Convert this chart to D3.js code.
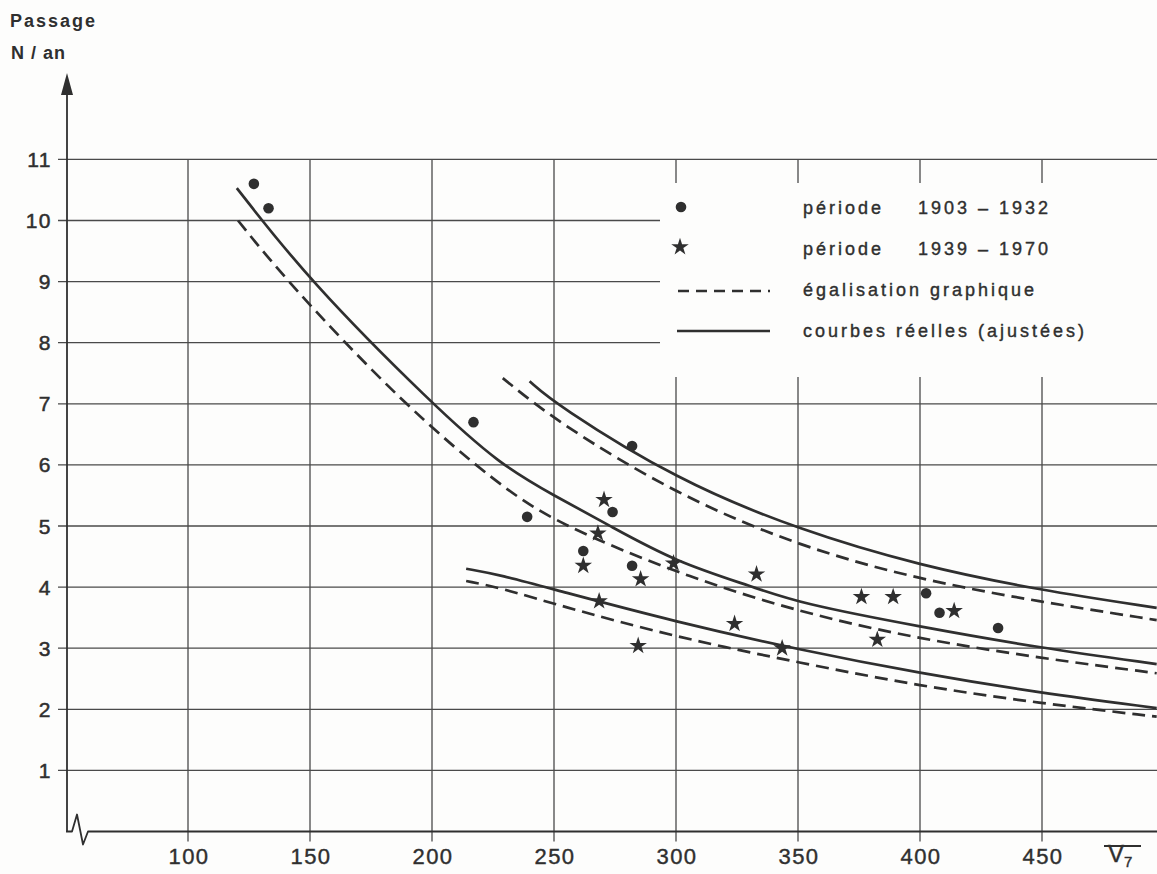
<!DOCTYPE html>
<html>
<head>
<meta charset="utf-8">
<script src="https://cdn.jsdelivr.net/npm/d3@7"></script>
<style>
  html, body { margin: 0; padding: 0; background: #fdfdfc; }
  svg { display: block; }
  text { font-family: 'Liberation Sans', Arial, sans-serif; }
</style>
</head>
<body>
<div id="chart"></div>
<script>
// Tick values
var xTicks = [100, 150, 200, 250, 300, 350, 400, 450];
var yTicks = [1, 2, 3, 4, 5, 6, 7, 8, 9, 10, 11];

// Observations, période 1903 - 1932 (dots)
var p1V = [127, 133, 217, 239, 282, 274, 262, 282, 402.5, 408, 432];
var p1N = [10.6, 10.2, 6.7, 5.15, 6.31, 5.23, 4.59, 4.35, 3.9, 3.58, 3.33];

// Observations, période 1939 - 1970 (stars)
var p2V = [270.5, 268, 262, 285.5, 299, 268.5, 333, 324, 284.5, 343.5, 376, 389, 382.5, 414];
var p2N = [5.43, 4.88, 4.35, 4.13, 4.39, 3.77, 4.21, 3.4, 3.04, 3.0, 3.84, 3.84, 3.14, 3.61];

// Curves: solid = courbes réelles, dashed = égalisation graphique
var curveASolidV = [120, 150, 200, 228, 250, 273, 300, 332, 350, 400, 450, 497];
var curveASolidN = [10.53, 9.0, 7.0, 6.0, 5.5, 5.0, 4.41, 4.0, 3.74, 3.35, 3.0, 2.74];
var curveADashV  = [120.5, 140.6, 188, 228, 251, 300, 351, 400, 449, 497];
var curveADashN  = [10.0, 9.0, 7.0, 5.65, 5.05, 4.23, 3.58, 3.15, 2.84, 2.59];

var curveBSolidV = [240, 250.4, 300.4, 350.8, 400, 449, 497];
var curveBSolidN = [7.37, 7.0, 5.75, 4.93, 4.35, 3.95, 3.66];
var curveBDashV  = [229, 251.6, 300.4, 350.8, 400, 449, 497];
var curveBDashN  = [7.42, 6.69, 5.51, 4.66, 4.12, 3.76, 3.46];

var curveCSolidV = [214, 228, 251, 300, 351, 400, 449, 497];
var curveCSolidN = [4.3, 4.2, 3.95, 3.43, 2.97, 2.59, 2.27, 2.02];
var curveCDashV  = [214, 228, 251, 300, 351, 400, 449, 497];
var curveCDashN  = [4.1, 3.99, 3.71, 3.18, 2.76, 2.38, 2.10, 1.88];

var legendLabels = ['période', 'période', 'égalisation graphique', 'courbes réelles (ajustées)'];
var legendYears = ['1903 – 1932', '1939 – 1970', '', ''];

// Colours
var INK = '#2f2f2f',
    GRID = '#4a4a4a',
    BG = '#fdfdfc';

var WIDTH = 1157, HEIGHT = 874;

var svg = d3.select('#chart').append('svg')
  .attr('width', WIDTH)
  .attr('height', HEIGHT);

svg.append('rect').attr('width', WIDTH).attr('height', HEIGHT).attr('fill', BG);

// Scales
var x = d3.scaleLinear().domain([50, 500]).range([66, 1164]);
var y = d3.scaleLinear().domain([0, 11]).range([831.5, 159.4]);

var X_RIGHT = WIDTH;

// Horizontal grid lines + y ticks
svg.append('g').selectAll('line')
  .data(yTicks)
  .enter().append('line')
  .attr('x1', 58).attr('x2', X_RIGHT)
  .attr('y1', function(d) { return y(d); })
  .attr('y2', function(d) { return y(d); })
  .attr('stroke', GRID).attr('stroke-width', 1.3);

// Vertical grid lines (with tick below the axis)
svg.append('g').selectAll('line')
  .data(xTicks)
  .enter().append('line')
  .attr('x1', function(d) { return x(d); })
  .attr('x2', function(d) { return x(d); })
  .attr('y1', y(11)).attr('y2', y(0) + 10)
  .attr('stroke', GRID).attr('stroke-width', 1.3);

// Blank area behind the legend
svg.append('rect')
  .attr('x', 660).attr('y', 183)
  .attr('width', WIDTH - 660).attr('height', 194)
  .attr('fill', BG);

// Y axis with arrow
svg.append('line')
  .attr('x1', x(50) + 1).attr('x2', x(50) + 1)
  .attr('y1', y(0)).attr('y2', 90)
  .attr('stroke', INK).attr('stroke-width', 1.8);
svg.append('path')
  .attr('d', 'M' + (x(50) + 1) + ',73 L' + (x(50) - 5) + ',95 L' + (x(50) + 7) + ',95 Z')
  .attr('fill', INK);

// X axis with break symbol
var x0 = x(50), yb = y(0);
svg.append('path')
  .attr('d', 'M' + x0 + ',' + yb + ' L' + (x0 + 6) + ',' + yb +
             ' L' + (x0 + 11) + ',' + (yb - 17) + ' L' + (x0 + 17) + ',' + (yb + 13) +
             ' L' + (x0 + 22) + ',' + yb + ' L' + X_RIGHT + ',' + yb)
  .attr('fill', 'none')
  .attr('stroke', INK).attr('stroke-width', 1.8)
  .attr('stroke-linejoin', 'round');

// Tick labels (a thin stroke to match the heavier print)
svg.append('g').selectAll('text')
  .data(yTicks)
  .enter().append('text')
  .attr('x', 52)
  .attr('y', function(d) { return y(d) + 7.5; })
  .attr('text-anchor', 'end')
  .attr('font-size', '21px')
  .attr('letter-spacing', '1.5px')
  .attr('fill', INK).attr('stroke', INK).attr('stroke-width', 0.5)
  .text(function(d) { return d; });

svg.append('g').selectAll('text')
  .data(xTicks)
  .enter().append('text')
  .attr('x', function(d) { return x(d) + 1; })
  .attr('y', 864)
  .attr('text-anchor', 'middle')
  .attr('font-size', '22px')
  .attr('letter-spacing', '1.5px')
  .attr('fill', INK).attr('stroke', INK).attr('stroke-width', 0.4)
  .text(function(d) { return d; });

// Axis titles
svg.append('text')
  .attr('x', 10).attr('y', 27)
  .attr('font-size', '18px').attr('font-weight', 'bold')
  .attr('letter-spacing', '2px')
  .attr('fill', INK)
  .text('Passage');
svg.append('text')
  .attr('x', 11).attr('y', 59)
  .attr('font-size', '18px').attr('font-weight', 'bold')
  .attr('letter-spacing', '1px')
  .attr('fill', INK)
  .text('N / an');

// V7 label with overbar
var vLabel = svg.append('text')
  .attr('x', 1108).attr('y', 862)
  .attr('font-size', '24px')
  .attr('fill', INK).attr('stroke', INK).attr('stroke-width', 0.4)
  .text('V');
vLabel.append('tspan')
  .attr('dy', 5)
  .attr('font-size', '15px')
  .text('7');
svg.append('line')
  .attr('x1', 1104).attr('x2', 1141)
  .attr('y1', 846).attr('y2', 846)
  .attr('stroke', INK).attr('stroke-width', 1.8);

// Curves
var line = d3.line()
  .x(function(d) { return x(d[0]); })
  .y(function(d) { return y(d[1]); })
  .curve(d3.curveBasis);

function drawCurve(vs, ns, dashed) {
  svg.append('path')
    .datum(d3.zip(vs, ns))
    .attr('d', line)
    .attr('fill', 'none')
    .attr('stroke', INK)
    .attr('stroke-width', 2.7)
    .attr('stroke-dasharray', dashed ? '13,7' : null);
}

drawCurve(curveASolidV, curveASolidN, false);
drawCurve(curveADashV, curveADashN, true);
drawCurve(curveBSolidV, curveBSolidN, false);
drawCurve(curveBDashV, curveBDashN, true);
drawCurve(curveCSolidV, curveCSolidN, false);
drawCurve(curveCDashV, curveCDashN, true);

// Dots
svg.append('g').selectAll('circle')
  .data(d3.zip(p1V, p1N))
  .enter().append('circle')
  .attr('cx', function(d) { return x(d[0]); })
  .attr('cy', function(d) { return y(d[1]); })
  .attr('r', 5.3)
  .attr('fill', INK);

// Stars
var star = d3.symbol().type(d3.symbolStar).size(95);
svg.append('g').selectAll('path')
  .data(d3.zip(p2V, p2N))
  .enter().append('path')
  .attr('d', star)
  .attr('transform', function(d) { return 'translate(' + x(d[0]) + ',' + y(d[1]) + ')'; })
  .attr('fill', INK);

// Legend
var legend = svg.append('g');
var rowY = [208, 249, 290, 331];

legend.append('circle').attr('cx', 681).attr('cy', rowY[0] - 1).attr('r', 5.3).attr('fill', INK);
legend.append('path').attr('d', star).attr('transform', 'translate(680,' + (rowY[1] - 2) + ')').attr('fill', INK);
legend.append('line')
  .attr('x1', 678).attr('x2', 770).attr('y1', rowY[2] + 1).attr('y2', rowY[2] + 1)
  .attr('stroke', INK).attr('stroke-width', 2.7).attr('stroke-dasharray', '11,7');
legend.append('line')
  .attr('x1', 677).attr('x2', 770).attr('y1', rowY[3]).attr('y2', rowY[3])
  .attr('stroke', INK).attr('stroke-width', 2.7);

legend.selectAll('text.lbl')
  .data(legendLabels)
  .enter().append('text')
  .attr('class', 'lbl')
  .attr('x', 803)
  .attr('y', function(d, i) { return rowY[i] + 6; })
  .attr('font-size', '18px')
  .attr('letter-spacing', '3px')
  .attr('fill', INK).attr('stroke', INK).attr('stroke-width', 0.4)
  .text(function(d) { return d; });

legend.selectAll('text.yr')
  .data(legendYears)
  .enter().append('text')
  .attr('class', 'yr')
  .attr('x', 918)
  .attr('y', function(d, i) { return rowY[i] + 6; })
  .attr('font-size', '18px')
  .attr('letter-spacing', '3px')
  .attr('fill', INK).attr('stroke', INK).attr('stroke-width', 0.4)
  .text(function(d) { return d; });
</script>
</body>
</html>
